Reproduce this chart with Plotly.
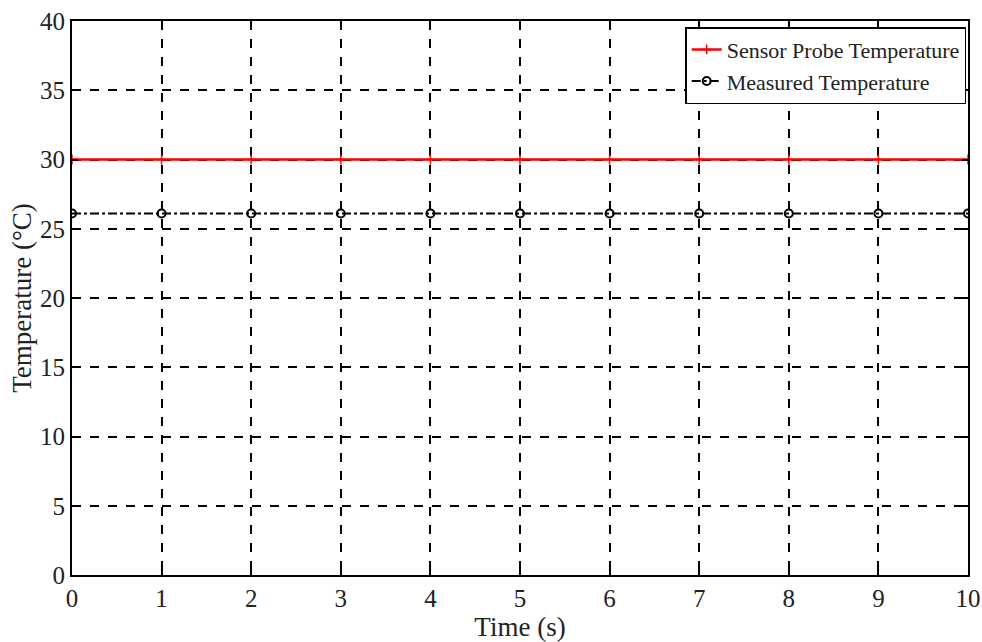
import plotly.graph_objects as go

time_s = [0, 1, 2, 3, 4, 5, 6, 7, 8, 9, 10]
probe_temp = [30, 30, 30, 30, 30, 30, 30, 30, 30, 30, 30]
measured_temp = [26.1, 26.1, 26.1, 26.1, 26.1, 26.1, 26.1, 26.1, 26.1, 26.1, 26.1]
x_ticks = [0, 1, 2, 3, 4, 5, 6, 7, 8, 9, 10]
y_ticks = [0, 5, 10, 15, 20, 25, 30, 35, 40]

FONT = "Liberation Serif"

fig = go.Figure()
fig.add_trace(go.Scatter(
    x=time_s, y=probe_temp, mode="lines+markers", name="Sensor Probe Temperature",
    line=dict(color="#ff0000", width=2.5),
    marker=dict(symbol="cross-thin", size=7, line=dict(color="#ff0000", width=1.5)),
))
fig.add_trace(go.Scatter(
    x=time_s, y=measured_temp, mode="lines+markers", name="Measured Temperature",
    line=dict(color="black", width=1.8, dash="dashdot"),
    marker=dict(symbol="circle-open", size=8, color="black", line=dict(color="black", width=2)),
))

axis_common = dict(
    showline=True, linecolor="black", linewidth=2, mirror="ticks",
    ticks="inside", ticklen=6, tickcolor="black", tickwidth=1.5,
    showgrid=True, gridcolor="black", griddash="dash", gridwidth=1.5,
    zeroline=False, automargin=False,
    tickfont=dict(family=FONT, size=25, color="#222"),
)

fig.update_xaxes(range=[0, 10], tickvals=x_ticks,
                 title=dict(text="Time (s)", font=dict(family=FONT, size=27, color="#222"), standoff=0),
                 **axis_common)
fig.update_yaxes(range=[0, 40], tickvals=y_ticks,
                 title=dict(text="Temperature (°C)", font=dict(family=FONT, size=27, color="#222"), standoff=1),
                 **axis_common)

fig.update_layout(
    width=982, height=642,
    margin=dict(l=72, r=14, t=21, b=67),
    paper_bgcolor="white", plot_bgcolor="white",
    font=dict(family=FONT, color="#222"),
    showlegend=True,
    legend=dict(x=0.998, y=0.989, xanchor="right", yanchor="top",
                bgcolor="white", bordercolor="black", borderwidth=1.5,
                font=dict(family=FONT, size=22, color="#222"),
                itemwidth=30, tracegroupgap=0),
)

fig.write_html("out.html")
